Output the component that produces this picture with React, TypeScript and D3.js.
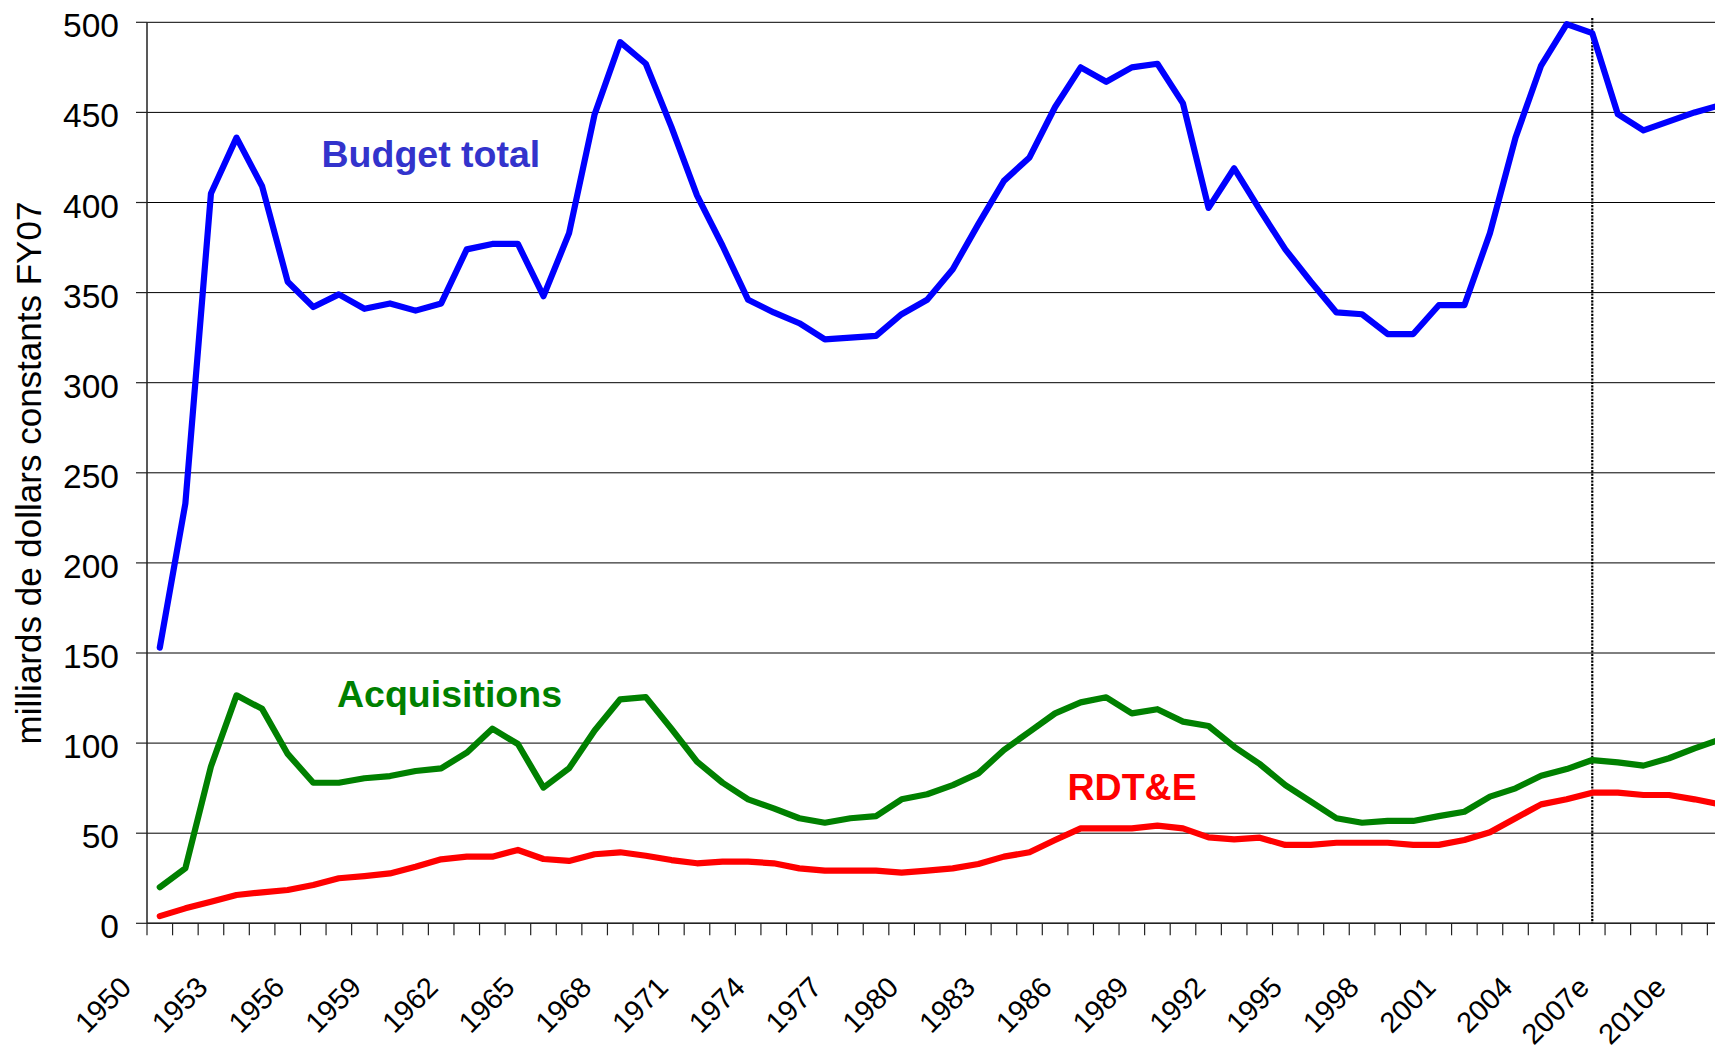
import React from "react";
import * as d3 from "d3";

const categories = [
  "1950","1951","1952","1953","1954","1955","1956","1957","1958","1959",
  "1960","1961","1962","1963","1964","1965","1966","1967","1968","1969",
  "1970","1971","1972","1973","1974","1975","1976","1977","1978","1979",
  "1980","1981","1982","1983","1984","1985","1986","1987","1988","1989",
  "1990","1991","1992","1993","1994","1995","1996","1997","1998","1999",
  "2000","2001","2002","2003","2004","2005","2006","2007e","2008e","2009e",
  "2010e","2011e",
];

const budgetTotal = [
  153, 233, 405, 436, 409, 356, 342, 349, 341, 344,
  340, 344, 374, 377, 377, 348, 383, 449, 489, 477,
  442, 404, 376, 346, 339, 333, 324, 325, 326, 338,
  346, 363, 388, 412, 425, 453, 475, 467, 475, 477,
  455, 397, 419, 396, 374, 356, 339, 338, 327, 327,
  343, 343, 383, 436, 476, 499, 494, 449, 440, 445,
  450, 454,
];

const acquisitions = [
  20, 30.5, 87, 126.5, 119, 94, 78, 78, 80.5, 81.7,
  84.5, 86, 94.7, 108, 99.5, 75.3, 86, 107, 124.3, 125.5,
  108, 89.7, 78, 68.8, 63.8, 58.3, 55.8, 58.3, 59.5, 68.8,
  71.6, 76.7, 83.2, 96.2, 106.3, 116.5, 122.6, 125.4, 116.5, 118.8,
  111.9, 109.5, 98, 88.4, 76.7, 67.5, 58.3, 55.8, 56.8, 56.8,
  59.5, 61.9, 70.3, 74.9, 81.9, 85.6, 90.6, 89.3, 87.5, 91.6,
  97.1, 102,
];

const rdte = [
  4, 8.3, 12, 15.7, 17.2, 18.5, 21.3, 25, 26.2, 27.7,
  31.4, 35.5, 37, 37, 40.7, 35.7, 34.6, 38.3, 39.4, 37.5,
  35.1, 33.3, 34.2, 34.2, 33.3, 30.5, 29.2, 29.2, 29.2, 28.1,
  29.2, 30.5, 32.9, 37, 39.4, 46.2, 52.7, 52.7, 52.7, 54.2,
  52.7, 47.7, 46.6, 47.5, 43.5, 43.5, 44.7, 44.7, 44.7, 43.5,
  43.5, 46.2, 50.5, 58.3, 66, 68.8, 72.5, 72.5, 71.2, 71.2,
  68.8, 66,
];

const yTicks = [0, 50, 100, 150, 200, 250, 300, 350, 400, 450, 500];
const xLabelEvery = 3;
const lastActualYear = "2006";

const seriesList = [
  { name: "Budget total", values: budgetTotal, color: "#0000ff", labelColor: "#3333cc", lx: 321.5, ly: 166.5 },
  { name: "Acquisitions", values: acquisitions, color: "#008000", labelColor: "#008000", lx: 337, ly: 707 },
  { name: "RDT&E", values: rdte, color: "#ff0000", labelColor: "#ff0000", lx: 1067.5, ly: 800 },
];

const W = 1715;
const H = 1050;
const X0 = 147;
const BAND = 25.58;
const Y_TOP = 22.3;
const Y_BOTTOM = 923.3;
const FONT = "'Liberation Sans', Arial, Helvetica, sans-serif";

export default function App() {
  const x = d3
    .scaleBand<string>()
    .domain(categories)
    .range([X0, X0 + categories.length * BAND])
    .paddingInner(0)
    .paddingOuter(0);
  const y = d3.scaleLinear().domain([0, 500]).range([Y_BOTTOM, Y_TOP]);
  const cx = (c: string) => (x(c) as number) + x.bandwidth() / 2;
  const xEnd = X0 + categories.length * BAND;

  const line = (vals: number[]) =>
    d3
      .line<number>()
      .x((_, i) => cx(categories[i]))
      .y((v) => y(v))(vals) as string;

  const tickEdges = categories.map((c) => x(c) as number).concat([xEnd]);

  return (
    <svg
      width={W}
      height={H}
      style={{ position: "absolute", left: 0, top: 0, background: "#fff" }}
      fontFamily={FONT}
    >
      <rect x={0} y={0} width={W} height={H} fill="#ffffff" />
      {yTicks.map((t) => (
        <line key={"g" + t} x1={X0} x2={xEnd} y1={y(t)} y2={y(t)} stroke="#000" strokeWidth={1} />
      ))}
      <line x1={X0} x2={X0} y1={Y_TOP} y2={Y_BOTTOM} stroke="#222" strokeWidth={1.5} />
      {yTicks.map((t) => (
        <g key={"yt" + t}>
          <line x1={X0 - 11} x2={X0} y1={y(t)} y2={y(t)} stroke="#222" strokeWidth={1.2} />
          <text x={119} y={y(t)} dy="0.45em" textAnchor="end" fontSize={33.5} fill="#000">
            {t}
          </text>
        </g>
      ))}
      <line x1={X0} x2={xEnd} y1={Y_BOTTOM} y2={Y_BOTTOM} stroke="#222" strokeWidth={1.5} />
      {tickEdges.map((tx, i) => (
        <line key={"xt" + i} x1={tx} x2={tx} y1={Y_BOTTOM} y2={Y_BOTTOM + 12} stroke="#222" strokeWidth={1.2} />
      ))}
      {categories.map((c, i) =>
        i % xLabelEvery === 0 ? (
          <text
            key={"xl" + c}
            transform={`translate(${cx(c) - 27},${989}) rotate(-45)`}
            textAnchor="end"
            fontSize={29}
            fill="#000"
          >
            {c}
          </text>
        ) : null
      )}
      <line
        x1={cx(lastActualYear)}
        x2={cx(lastActualYear)}
        y1={18}
        y2={Y_BOTTOM}
        stroke="#000"
        strokeWidth={2.2}
        strokeDasharray="2.2 1.2"
      />
      {seriesList.map((s) => (
        <path
          key={s.name}
          d={line(s.values)}
          fill="none"
          stroke={s.color}
          strokeWidth={6.2}
          strokeLinejoin="round"
          strokeLinecap="round"
        />
      ))}
      {seriesList.map((s) => (
        <text
          key={"lab" + s.name}
          x={s.lx}
          y={s.ly}
          fontSize={37.5}
          fontWeight="bold"
          fill={s.labelColor}
        >
          {s.name}
        </text>
      ))}
      <text
        transform={`translate(41,473) rotate(-90)`}
        textAnchor="middle"
        fontSize={35}
        fill="#000"
      >
        milliards de dollars constants FY07
      </text>
    </svg>
  );
}
